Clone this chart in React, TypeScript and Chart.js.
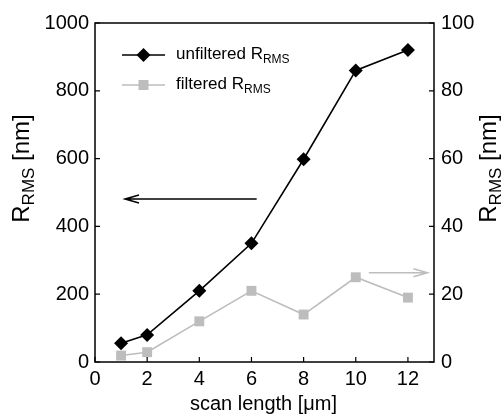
import React, { useEffect, useRef } from "react";
import { Chart, registerables } from "chart.js";

Chart.register(...registerables);

const xValues = [1, 2, 4, 6, 8, 10, 12];
const unfilteredRms = [55, 80, 210, 350, 598, 860, 920];
const filteredRms = [1.9, 2.9, 12, 21, 14, 25, 19];

const xTickValues = [0, 2, 4, 6, 8, 10, 12];
const leftTickValues = [0, 200, 400, 600, 800, 1000];
const rightTickValues = [0, 20, 40, 60, 80, 100];

// arrows in data coordinates: [xFrom, xTo, yValue]
const leftArrow = [6.2, 1.15, 481];
const rightArrow = [10.5, 12.75, 26.3];

const FONT = '"Liberation Sans", Arial, Helvetica, sans-serif';
const GRAY = "#bdbdbd";

function drawSubText(
  ctx: CanvasRenderingContext2D,
  main: string,
  sub: string,
  rest: string,
  size: number,
  subSize: number,
  x: number,
  y: number,
  align: "left" | "center"
) {
  ctx.font = `${size}px ${FONT}`;
  const w1 = ctx.measureText(main).width;
  const w3 = ctx.measureText(rest).width;
  ctx.font = `${subSize}px ${FONT}`;
  const w2 = ctx.measureText(sub).width;
  const total = w1 + w2 + w3;
  let sx = align === "center" ? x - total / 2 : x;
  ctx.textBaseline = "middle";
  ctx.textAlign = "left";
  ctx.font = `${size}px ${FONT}`;
  ctx.fillText(main, sx, y);
  sx += w1;
  ctx.font = `${subSize}px ${FONT}`;
  ctx.fillText(sub, sx, y + size * 0.32);
  sx += w2;
  ctx.font = `${size}px ${FONT}`;
  ctx.fillText(rest, sx, y);
}

function drawArrow(ctx: CanvasRenderingContext2D, x1: number, x2: number, y: number, color: string) {
  ctx.save();
  ctx.strokeStyle = color;
  ctx.lineWidth = 1.5;
  ctx.beginPath();
  ctx.moveTo(x1, y);
  ctx.lineTo(x2, y);
  const dir = x2 > x1 ? 1 : -1;
  ctx.moveTo(x2 - dir * 14, y - 4);
  ctx.lineTo(x2, y);
  ctx.lineTo(x2 - dir * 14, y + 4);
  ctx.stroke();
  ctx.restore();
}

const decorPlugin = {
  id: "decor",
  afterDraw(chart: any) {
    const ctx = chart.ctx as CanvasRenderingContext2D;
    const { left, right, top, bottom } = chart.chartArea;
    const xs = chart.scales.x;
    const ys = chart.scales.y;
    const y2 = chart.scales.y2;
    ctx.save();
    // frame
    ctx.strokeStyle = "#000";
    ctx.lineWidth = 1.5;
    ctx.strokeRect(left, top, right - left, bottom - top);
    // inner ticks
    ctx.lineWidth = 1.2;
    ctx.beginPath();
    xTickValues.forEach((v) => {
      const px = xs.getPixelForValue(v);
      ctx.moveTo(px, bottom);
      ctx.lineTo(px, bottom - 5);
    });
    leftTickValues.forEach((v) => {
      const py = ys.getPixelForValue(v);
      ctx.moveTo(left, py);
      ctx.lineTo(left + 5, py);
    });
    rightTickValues.forEach((v) => {
      const py = y2.getPixelForValue(v);
      ctx.moveTo(right, py);
      ctx.lineTo(right - 5, py);
    });
    ctx.stroke();

    // arrows
    drawArrow(ctx, xs.getPixelForValue(leftArrow[0]), xs.getPixelForValue(leftArrow[1]), ys.getPixelForValue(leftArrow[2]), "#000");
    drawArrow(ctx, xs.getPixelForValue(rightArrow[0]), xs.getPixelForValue(rightArrow[1]), y2.getPixelForValue(rightArrow[2]), GRAY);

    // legend
    const lx1 = left + 27;
    const lx2 = left + 70;
    const lcx = (lx1 + lx2) / 2;
    const ly1 = top + 32;
    const ly2 = top + 62;
    ctx.lineWidth = 1.5;
    ctx.strokeStyle = "#000";
    ctx.beginPath();
    ctx.moveTo(lx1, ly1);
    ctx.lineTo(lx2, ly1);
    ctx.stroke();
    ctx.fillStyle = "#000";
    ctx.beginPath();
    ctx.moveTo(lcx, ly1 - 7);
    ctx.lineTo(lcx + 7, ly1);
    ctx.lineTo(lcx, ly1 + 7);
    ctx.lineTo(lcx - 7, ly1);
    ctx.closePath();
    ctx.fill();
    ctx.strokeStyle = GRAY;
    ctx.beginPath();
    ctx.moveTo(lx1, ly2);
    ctx.lineTo(lx2, ly2);
    ctx.stroke();
    ctx.fillStyle = GRAY;
    ctx.fillRect(lcx - 5, ly2 - 5, 10, 10);

    ctx.fillStyle = "#000";
    drawSubText(ctx, "unfiltered R", "RMS", "", 17, 12, lx2 + 11, ly1 - 1, "left");
    drawSubText(ctx, "filtered R", "RMS", "", 17, 12, lx2 + 11, ly2 - 1, "left");

    // axis titles
    ctx.save();
    ctx.translate(22, (top + bottom) / 2 - 24);
    ctx.rotate(-Math.PI / 2);
    drawSubText(ctx, "R", "RMS", " [nm]", 24, 17, 0, 0, "center");
    ctx.restore();
    ctx.save();
    ctx.translate(489, (top + bottom) / 2 - 24);
    ctx.rotate(-Math.PI / 2);
    drawSubText(ctx, "R", "RMS", " [nm]", 24, 17, 0, 0, "center");
    ctx.restore();

    ctx.font = `20px ${FONT}`;
    ctx.textAlign = "center";
    ctx.textBaseline = "middle";
    ctx.fillText("scan length [\u03bcm]", (left + right) / 2 - 1, 404);
    ctx.restore();
  },
};

export default function App() {
  const ref = useRef<HTMLCanvasElement>(null);
  useEffect(() => {
    if (!ref.current) return;
    const tickFont = { family: FONT, size: 20 };
    const plain = (v: any) => String(v);
    const chart = new Chart(ref.current, {
      type: "line",
      data: {
        datasets: [
          {
            label: "unfiltered",
            data: xValues.map((x, i) => ({ x, y: unfilteredRms[i] })),
            yAxisID: "y",
            borderColor: "#000",
            backgroundColor: "#000",
            borderWidth: 1.6,
            pointStyle: "rectRot",
            pointRadius: 7,
            pointBorderWidth: 0,
          },
          {
            label: "filtered",
            data: xValues.map((x, i) => ({ x, y: filteredRms[i] })),
            yAxisID: "y2",
            borderColor: GRAY,
            backgroundColor: GRAY,
            borderWidth: 1.6,
            pointStyle: "rect",
            pointRadius: 7,
            pointBorderWidth: 0,
          },
        ],
      },
      options: {
        responsive: false,
        animation: false,
        events: [],
        layout: { padding: { top: 23, left: 0, right: 0, bottom: 0 } },
        plugins: { legend: { display: false }, tooltip: { enabled: false } },
        scales: {
          x: {
            type: "linear",
            min: 0,
            max: 13,
            grid: { display: false, drawTicks: false },
            border: { display: false },
            afterBuildTicks: (s: any) => {
              s.ticks = xTickValues.map((v) => ({ value: v }));
            },
            afterFit: (s: any) => {
              s.height = 54;
            },
            ticks: { color: "#000", font: tickFont, padding: 5, maxRotation: 0, autoSkip: false, callback: plain },
          },
          y: {
            type: "linear",
            position: "left",
            min: 0,
            max: 1000,
            grid: { display: false, drawTicks: false },
            border: { display: false },
            afterBuildTicks: (s: any) => {
              s.ticks = leftTickValues.map((v) => ({ value: v }));
            },
            afterFit: (s: any) => {
              s.width = 95;
            },
            ticks: { color: "#000", font: tickFont, padding: 6, callback: plain },
          },
          y2: {
            type: "linear",
            position: "right",
            min: 0,
            max: 100,
            grid: { display: false, drawTicks: false },
            border: { display: false },
            afterBuildTicks: (s: any) => {
              s.ticks = rightTickValues.map((v) => ({ value: v }));
            },
            afterFit: (s: any) => {
              s.width = 70;
            },
            ticks: { color: "#000", font: tickFont, padding: 7, callback: plain },
          },
        },
      } as any,
      plugins: [decorPlugin],
    });
    return () => chart.destroy();
  }, []);
  return (
    <div style={{ position: "absolute", left: 0, top: 0, width: 504, height: 416, background: "#fff" }}>
      <canvas ref={ref} width={504} height={416} />
    </div>
  );
}
